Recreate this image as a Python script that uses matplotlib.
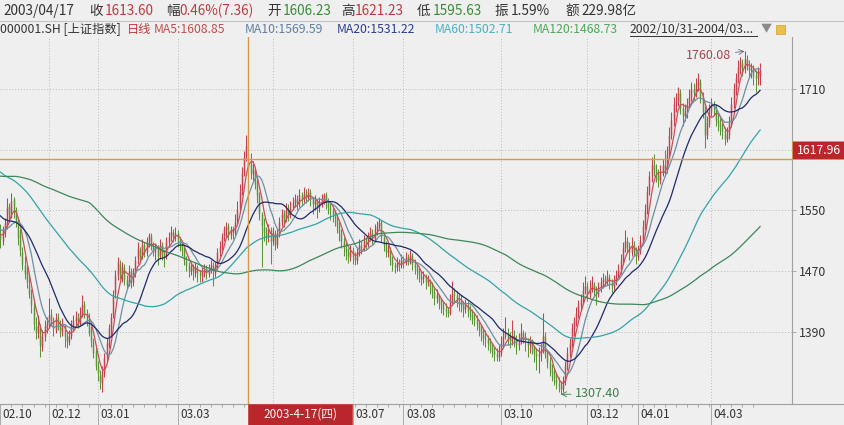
import numpy as np
import pandas as pd
import matplotlib
matplotlib.use("Agg")
import matplotlib.pyplot as plt
from matplotlib import transforms
from matplotlib.patches import Rectangle
from matplotlib.lines import Line2D

plt.rcParams['font.family'] = ['Noto Sans CJK SC', 'DejaVu Sans']

# ---------------- data ----------------
# closes before the visible window (needed for MA60 / MA120 at the left edge)
history_close = [
    1560, 1555, 1548, 1552, 1545, 1540, 1548, 1556, 1562, 1558,
    1550, 1545, 1538, 1542, 1550, 1555, 1560, 1565, 1558, 1552,
    1545, 1540, 1535, 1540, 1548, 1552, 1546, 1540, 1535, 1530,
    1528, 1520, 1515, 1510, 1505, 1512, 1520, 1525, 1518, 1530,
    1620, 1700, 1710, 1705, 1712,
    1720, 1715, 1705, 1700, 1690, 1685, 1695, 1700, 1690, 1680,
    1675, 1670, 1665, 1660, 1668,
    1660, 1665, 1655, 1650, 1645, 1652, 1660, 1658, 1650, 1645,
    1640, 1645, 1650, 1655, 1648, 1640, 1635, 1630, 1638, 1645,
    1640, 1632, 1628, 1625, 1630, 1622, 1618, 1615, 1620, 1612,
    1605, 1600, 1598, 1605, 1610, 1602, 1595, 1590, 1585, 1588,
    1580, 1575, 1570, 1572, 1565,
    1560, 1555, 1550, 1545, 1540, 1535, 1530, 1528, 1535, 1530,
    1525, 1520, 1515, 1518,
]

opens = [
    1520, 1510, 1522, 1530, 1556, 1542, 1565, 1550, 1535, 1518,
    1495, 1478, 1470, 1452, 1438, 1422, 1398, 1388, 1395, 1370,
    1384, 1396, 1400, 1414, 1405, 1392, 1410, 1402, 1390, 1398,
    1385, 1376, 1384, 1398, 1404, 1410, 1400, 1414, 1426, 1415,
    1405, 1392, 1378, 1365, 1345, 1332, 1322, 1336, 1356, 1372,
    1395, 1412, 1440, 1465, 1480, 1466, 1475, 1458, 1452, 1470,
    1455, 1468, 1486, 1498, 1490, 1504, 1495, 1510, 1516, 1502,
    1495, 1500, 1490, 1504, 1492, 1490, 1508, 1515, 1522, 1516,
    1520, 1510, 1505, 1498, 1484, 1478, 1470, 1476, 1468, 1475,
    1466, 1464, 1470, 1474, 1466, 1472, 1478, 1468, 1476, 1495,
    1502, 1516, 1525, 1530, 1518, 1526, 1522, 1536, 1552, 1576,
    1600, 1622, 1606.23, 1612, 1598, 1604, 1585, 1570, 1545, 1528,
    1520, 1514, 1524, 1510, 1520, 1505, 1520, 1535, 1545, 1540,
    1552, 1545, 1556, 1560, 1565, 1558, 1570, 1565, 1572, 1568,
    1575, 1565, 1558, 1562, 1555, 1560, 1565, 1570, 1562, 1555,
    1550, 1545, 1540, 1530, 1520, 1510, 1500, 1495, 1488, 1498,
    1488, 1485, 1495, 1505, 1500, 1510, 1508, 1515, 1520, 1512,
    1525, 1530, 1535, 1515, 1505, 1495, 1498, 1485, 1478, 1475,
    1480, 1478, 1485, 1482, 1488, 1485, 1490, 1480, 1475, 1470,
    1465, 1460, 1462, 1455, 1458, 1450, 1442, 1435, 1438, 1430,
    1425, 1420, 1418, 1415, 1430, 1440, 1438, 1432, 1428, 1425,
    1420, 1425, 1418, 1415, 1410, 1405, 1400, 1395, 1388, 1382,
    1380, 1375, 1372, 1365, 1360, 1356, 1362, 1375, 1385, 1390,
    1382, 1378, 1385, 1380, 1372, 1378, 1388, 1385, 1378, 1372,
    1375, 1368, 1362, 1358, 1360, 1365, 1385, 1360, 1350, 1340,
    1335, 1328, 1322, 1318, 1315, 1325, 1345, 1362, 1375, 1395,
    1405, 1415, 1425, 1432, 1445, 1450, 1440, 1448, 1452, 1445,
    1440, 1448, 1455, 1460, 1458, 1462, 1455, 1450, 1458, 1465,
    1472, 1485, 1500, 1510, 1502, 1495, 1505, 1498, 1490, 1497,
    1510, 1530, 1550, 1575, 1595, 1610, 1605, 1598, 1590, 1600,
    1610, 1605, 1625, 1650, 1670, 1690, 1695, 1705, 1685, 1675,
    1680, 1690, 1700, 1710, 1705, 1715, 1720, 1700, 1680, 1650,
    1665, 1680, 1690, 1685, 1670, 1665, 1660, 1655, 1645, 1650,
    1665, 1690, 1710, 1725, 1740, 1745, 1738, 1750, 1742, 1735,
    1738, 1728, 1725, 1728,
]

highs = [
    1532, 1530, 1540, 1566, 1560, 1573, 1568, 1555, 1540, 1525,
    1502, 1490, 1478, 1465, 1446, 1430, 1410, 1412, 1400, 1392,
    1405, 1410, 1435, 1420, 1410, 1415, 1415, 1405, 1408, 1400,
    1390, 1392, 1405, 1412, 1418, 1415, 1422, 1439, 1430, 1420,
    1415, 1398, 1382, 1370, 1352, 1340, 1345, 1362, 1382, 1400,
    1415, 1445, 1472, 1489, 1485, 1482, 1480, 1465, 1478, 1474,
    1474, 1490, 1508, 1502, 1512, 1508, 1515, 1520, 1520, 1508,
    1506, 1504, 1512, 1508, 1498, 1515, 1522, 1529, 1526, 1528,
    1524, 1515, 1510, 1502, 1490, 1482, 1482, 1480, 1482, 1478,
    1472, 1476, 1480, 1478, 1480, 1485, 1482, 1482, 1500, 1510,
    1520, 1530, 1535, 1533, 1530, 1530, 1545, 1562, 1585, 1608,
    1628, 1649.6, 1621.23, 1626, 1615, 1608, 1592, 1575, 1548, 1540,
    1528, 1532, 1528, 1528, 1524, 1526, 1542, 1552, 1550, 1560,
    1558, 1562, 1568, 1572, 1570, 1578, 1575, 1581, 1578, 1580,
    1578, 1568, 1570, 1565, 1568, 1572, 1573, 1574, 1566, 1560,
    1556, 1550, 1545, 1535, 1526, 1515, 1508, 1500, 1505, 1502,
    1495, 1500, 1512, 1510, 1518, 1515, 1522, 1528, 1525, 1532,
    1536, 1540, 1538, 1520, 1510, 1505, 1502, 1490, 1482, 1488,
    1486, 1492, 1490, 1495, 1492, 1498, 1494, 1486, 1480, 1476,
    1470, 1470, 1466, 1465, 1460, 1455, 1448, 1446, 1440, 1435,
    1430, 1428, 1422, 1440, 1457, 1448, 1444, 1440, 1438, 1430,
    1433, 1430, 1425, 1420, 1415, 1412, 1405, 1400, 1395, 1392,
    1386, 1382, 1375, 1370, 1368, 1372, 1385, 1395, 1410, 1395,
    1390, 1406, 1392, 1386, 1388, 1402, 1392, 1390, 1382, 1384,
    1380, 1372, 1368, 1370, 1375, 1415, 1390, 1365, 1356, 1348,
    1342, 1335, 1330, 1325, 1332, 1352, 1370, 1382, 1402, 1410,
    1422, 1432, 1440, 1455, 1463, 1455, 1458, 1463, 1456, 1450,
    1456, 1462, 1468, 1465, 1472, 1466, 1460, 1465, 1472, 1480,
    1492, 1508, 1524, 1515, 1508, 1515, 1510, 1502, 1505, 1518,
    1538, 1558, 1582, 1602, 1620, 1625, 1612, 1605, 1610, 1618,
    1630, 1635, 1660, 1680, 1700, 1705, 1713, 1710, 1692, 1690,
    1698, 1710, 1720, 1718, 1725, 1731, 1724, 1706, 1688, 1675,
    1690, 1698, 1695, 1690, 1678, 1672, 1668, 1660, 1660, 1675,
    1700, 1718, 1732, 1748, 1752, 1750, 1760.08, 1755, 1748, 1745,
    1742, 1735, 1740, 1745,
]

lows = [
    1500, 1505, 1515, 1526, 1535, 1540, 1540, 1528, 1505, 1490,
    1472, 1460, 1448, 1435, 1415, 1392, 1380, 1382, 1356, 1365,
    1378, 1388, 1395, 1398, 1385, 1388, 1392, 1383, 1385, 1370,
    1368, 1372, 1380, 1392, 1398, 1395, 1398, 1410, 1408, 1398,
    1385, 1370, 1355, 1340, 1325, 1314, 1311, 1330, 1350, 1368,
    1383, 1408, 1435, 1458, 1460, 1455, 1452, 1446, 1450, 1448,
    1450, 1462, 1480, 1482, 1486, 1488, 1490, 1502, 1498, 1490,
    1485, 1478, 1486, 1485, 1476, 1486, 1502, 1510, 1508, 1510,
    1502, 1496, 1490, 1478, 1470, 1462, 1465, 1458, 1462, 1455,
    1455, 1456, 1462, 1460, 1462, 1468, 1450, 1462, 1472, 1490,
    1498, 1510, 1515, 1511, 1512, 1512, 1518, 1532, 1548, 1570,
    1595, 1615, 1595.63, 1592, 1590, 1578, 1560, 1538, 1476, 1510,
    1505, 1508, 1480, 1505, 1498, 1500, 1515, 1530, 1528, 1535,
    1536, 1540, 1550, 1555, 1550, 1554, 1556, 1560, 1560, 1562,
    1556, 1545, 1550, 1540, 1548, 1555, 1558, 1552, 1545, 1538,
    1535, 1530, 1520, 1510, 1500, 1490, 1485, 1481, 1484, 1480,
    1478, 1480, 1490, 1492, 1496, 1498, 1502, 1510, 1505, 1508,
    1518, 1525, 1508, 1496, 1488, 1488, 1478, 1470, 1468, 1470,
    1470, 1474, 1474, 1478, 1478, 1480, 1472, 1466, 1460, 1456,
    1452, 1454, 1446, 1450, 1440, 1434, 1425, 1428, 1420, 1415,
    1412, 1410, 1409, 1412, 1426, 1428, 1422, 1418, 1416, 1410,
    1415, 1410, 1405, 1400, 1397, 1392, 1385, 1378, 1372, 1370,
    1366, 1362, 1356, 1351, 1352, 1352, 1358, 1370, 1380, 1372,
    1368, 1372, 1370, 1360, 1366, 1374, 1375, 1365, 1357, 1362,
    1360, 1350, 1340, 1336, 1352, 1362, 1355, 1342, 1332, 1325,
    1320, 1315, 1310, 1307.4, 1310, 1320, 1340, 1356, 1370, 1385,
    1398, 1408, 1418, 1428, 1440, 1430, 1435, 1442, 1436, 1425,
    1436, 1442, 1448, 1450, 1452, 1446, 1441, 1445, 1452, 1460,
    1466, 1480, 1495, 1494, 1485, 1490, 1490, 1480, 1485, 1492,
    1505, 1525, 1545, 1570, 1588, 1596, 1588, 1581, 1585, 1595,
    1596, 1600, 1620, 1645, 1662, 1680, 1688, 1678, 1662, 1668,
    1672, 1685, 1694, 1696, 1700, 1708, 1692, 1672, 1632, 1645,
    1660, 1675, 1676, 1662, 1655, 1650, 1645, 1637, 1640, 1645,
    1660, 1685, 1702, 1718, 1730, 1728, 1732, 1735, 1726, 1725,
    1715, 1706, 1716, 1715,
]

closes = [
    1512, 1525, 1533, 1555, 1545, 1562, 1548, 1535, 1515, 1498,
    1480, 1466, 1455, 1440, 1425, 1400, 1390, 1398, 1372, 1385,
    1398, 1402, 1412, 1405, 1395, 1408, 1400, 1392, 1398, 1385,
    1378, 1385, 1398, 1405, 1410, 1402, 1415, 1425, 1415, 1405,
    1390, 1378, 1362, 1345, 1335, 1325, 1335, 1355, 1375, 1395,
    1410, 1438, 1465, 1482, 1468, 1476, 1460, 1452, 1470, 1455,
    1468, 1485, 1500, 1488, 1505, 1494, 1510, 1518, 1503, 1498,
    1500, 1490, 1505, 1492, 1488, 1508, 1515, 1522, 1518, 1520,
    1510, 1505, 1498, 1485, 1478, 1472, 1475, 1470, 1475, 1468,
    1465, 1470, 1472, 1468, 1472, 1478, 1470, 1475, 1495, 1502,
    1515, 1525, 1528.5, 1518, 1525, 1522, 1535, 1551.65, 1575, 1600,
    1620, 1635.65, 1613.60, 1600, 1605, 1585, 1570, 1545, 1530, 1520,
    1515, 1525, 1510, 1520, 1505, 1520, 1535, 1545, 1540, 1550,
    1545, 1555, 1560, 1565, 1558, 1570, 1565, 1572, 1568, 1575,
    1565, 1558, 1562, 1555, 1560, 1565, 1570, 1562, 1555, 1550,
    1545, 1540, 1530, 1520, 1510, 1500, 1495, 1490, 1498, 1488,
    1485, 1495, 1505, 1500, 1510, 1508, 1515, 1520, 1512, 1525,
    1530, 1535, 1515, 1505, 1495, 1498, 1485, 1478, 1475, 1480,
    1478, 1485, 1482, 1488, 1485, 1490, 1480, 1475, 1470, 1465,
    1460, 1462, 1455, 1458, 1450, 1442, 1435, 1438, 1430, 1425,
    1420, 1418, 1415, 1430, 1440, 1438, 1432, 1428, 1425, 1420,
    1425, 1418, 1415, 1410, 1405, 1400, 1395, 1388, 1382, 1380,
    1375, 1372, 1365, 1360, 1358, 1362, 1375, 1385, 1390, 1382,
    1378, 1385, 1380, 1372, 1378, 1388, 1385, 1378, 1372, 1375,
    1368, 1362, 1358, 1360, 1365, 1385, 1360, 1350, 1340, 1335,
    1328, 1322, 1318, 1315, 1325, 1345, 1362, 1375, 1395, 1405,
    1415, 1425, 1432, 1445, 1450, 1440, 1448, 1452, 1445, 1440,
    1448, 1455, 1460, 1458, 1462, 1455, 1450, 1458, 1465, 1472,
    1485, 1500, 1510, 1502, 1495, 1505, 1498, 1490, 1497, 1510,
    1530, 1550, 1575, 1595, 1610, 1605, 1598, 1590, 1600, 1610,
    1605, 1625, 1650, 1670, 1690, 1695, 1705, 1685, 1675, 1680,
    1690, 1700, 1710, 1705, 1715, 1720, 1700, 1680, 1650, 1665,
    1680, 1690, 1685, 1670, 1665, 1660, 1655, 1645, 1650, 1665,
    1690, 1710, 1725, 1740, 1745, 1738, 1750, 1742, 1735, 1738,
    1728, 1725, 1732, 1735,
]

ma_periods = [5, 10, 20, 60, 120]
x_tick_pos = [0, 22, 44, 80, 159, 182, 226, 265, 288, 321]
x_tick_labels = ['02.10', '02.12', '03.01', '03.03', '03.07', '03.08',
                 '03.10', '03.12', '04.01', '04.03']
x_grid_pos = [22, 44, 80, 123, 159, 182, 226, 265, 288, 321]
y_grid = [1390, 1470, 1550, 1630, 1710]
y_tick_vals = [1390, 1470, 1550, 1710]
cross_idx = 112
cross_value = 1617.96
cross_date = '2003-4-17(四)'
peak_idx, peak_val = 336, 1760.08
low_idx, low_val = 253, 1307.40

header1 = [('2003/04/17', 'dark'), ('收', 'dark'), ('1613.60', 'up'),
           ('幅', 'dark'), ('0.46%(7.36)', 'up'), ('开', 'dark'),
           ('1606.23', 'down'), ('高', 'dark'), ('1621.23', 'up'),
           ('低', 'dark'), ('1595.63', 'down'), ('振', 'dark'),
           ('1.59%', 'dark'), ('额', 'dark'), ('229.98亿', 'dark')]
header1_x = [3, 89, 105, 166, 179, 267, 283, 341, 355, 417, 433, 495, 511, 565, 581]
header2 = ['000001.SH [上证指数]', '日线', 'MA5:1608.85', 'MA10:1569.59',
           'MA20:1531.22', 'MA60:1502.71', 'MA120:1468.73', '2002/10/31-2004/03...']
header2_x = [0, 127, 154, 245, 337, 435, 533, 630]

# ---------------- style ----------------
BG = '#efefef'
DARK = '#333333'
UP_TXT = '#c0393f'
DN_TXT = '#3a8a3a'
RED_BAR = '#c8404e'
GREEN_BAR = '#5a9638'
MA_LINE = ['#c8505c', '#6d8fa3', '#1f2a6b', '#34a3a8', '#3f8659']
MA_TXT = ['#c0504d', '#5f7f9f', '#2c3f8f', '#4fb0c0', '#4ea85a']
CROSS = '#d49c4a'
GRID = '#b9b9b9'
AXC = '#a0a0a0'

W, H = 845, 425
fig = plt.figure(figsize=(W / 100, H / 100), dpi=100, facecolor=BG)
PL, PR, PT, PB = 0, 792, 37, 404
ax = fig.add_axes([PL / W, 1 - PB / H, (PR - PL) / W, (PB - PT) / H])
ax.set_facecolor(BG)

o = np.array(opens, float)
hi = np.array(highs, float)
lo = np.array(lows, float)
c = np.array(closes, float)
n = len(c)
idx = np.arange(n)
up = c >= o
bl = np.minimum(o, c)
bh = np.maximum(o, c)
for mask, col in ((up, RED_BAR), (~up, GREEN_BAR)):
    ax.vlines(idx[mask], lo[mask], hi[mask], colors=col, lw=0.75, zorder=3)
    ax.vlines(idx[mask], bl[mask], bh[mask], colors=col, lw=1.05, zorder=3)

full = pd.Series(list(history_close) + list(closes), dtype=float)
off = len(history_close)
for p, col in zip(ma_periods, MA_LINE):
    ma = full.rolling(p).mean().to_numpy()[off:]
    ax.plot(idx, ma, color=col, lw=0.9, zorder=4)

for yv in y_grid:
    ax.axhline(yv, color=GRID, lw=0.7, ls=(0, (1, 2)), zorder=1)
for xv in x_grid_pos:
    ax.axvline(xv, color=GRID, lw=0.7, ls=(0, (1, 2)), zorder=1)

ax.axvline(cross_idx, color=CROSS, lw=1.0, zorder=5)
ax.axhline(cross_value, color=CROSS, lw=1.0, zorder=5)

ax.set_xlim(-0.14, 357.4)
ax.set_ylim(1294.6, 1779)

for s in ('top', 'left'):
    ax.spines[s].set_visible(False)
for s in ('bottom', 'right'):
    ax.spines[s].set_color(AXC)
    ax.spines[s].set_linewidth(0.8)

ax.yaxis.tick_right()
ax.set_yticks(y_tick_vals)
ax.set_yticklabels([str(v) for v in y_tick_vals])
ax.tick_params(axis='y', direction='out', length=3, width=0.6, color=AXC,
               labelcolor=DARK, labelsize=8.8, pad=2)
ax.set_xticks(x_tick_pos + [123])
ax.set_xticklabels([])
ax.set_xticks(np.arange(0, n, 5), minor=True)
ax.tick_params(axis='x', which='major', direction='out', length=15, width=0.6, color=AXC)
ax.tick_params(axis='x', which='minor', direction='out', length=2.5, width=0.6, color=AXC)

btrans = transforms.blended_transform_factory(ax.transData, ax.transAxes)
lab_trans = transforms.offset_copy(btrans, fig=fig, x=2.5, y=-10, units='dots')
for p, lab in zip(x_tick_pos, x_tick_labels):
    ax.text(p, 0, lab, transform=lab_trans, ha='left', va='center',
            fontsize=8.5, color=DARK, clip_on=False)

# bottom axis continues under the price scale
fig.add_artist(Line2D([PR / W, 1], [1 - PB / H] * 2, transform=fig.transFigure,
                      color=AXC, lw=0.8))

# crosshair date box
xpix = ax.transData.transform((cross_idx, 0))[0]
fig.add_artist(Rectangle((xpix / W, 0), 104 / W, (H - PB) / H, transform=fig.transFigure,
                         facecolor='#b9272d', edgecolor='#c9463f', lw=0.6, zorder=10))
fig.text((xpix + 52) / W, (H - PB) / 2 / H, cross_date, ha='center', va='center',
         fontsize=8.5, color='white', zorder=11)

# crosshair value box
ypix = ax.transData.transform((0, cross_value))[1]
fig.add_artist(Rectangle((PR / W, ypix / H), (W - PR) / W, 18 / H, transform=fig.transFigure,
                         facecolor='#b9272d', edgecolor=CROSS, lw=0.6, zorder=10))
fig.text((PR + (W - PR) / 2) / W, (ypix + 9) / H, f'{cross_value:.2f}', ha='center',
         va='center', fontsize=8.8, color='white', zorder=11)

# annotations
ax.annotate(f'{peak_val:.2f}', xy=(peak_idx, peak_val), xytext=(309.5, 1755),
            ha='left', va='center', fontsize=9, color='#a8434d',
            arrowprops=dict(arrowstyle='->', color='#6d7080', lw=0.6,
                            shrinkA=1, shrinkB=0), zorder=6)
ax.annotate(f'{low_val:.2f}', xy=(low_idx, low_val), xytext=(259.5, 1307.8),
            ha='left', va='center', fontsize=9, color='#3d7f45',
            arrowprops=dict(arrowstyle='->', color='#3d7f45', lw=0.6,
                            shrinkA=1, shrinkB=0), zorder=6)

# header
col_map = {'dark': DARK, 'up': UP_TXT, 'down': DN_TXT}
for (txt, kind), xp in zip(header1, header1_x):
    fig.text(xp / W, 1 - 11 / H, txt, ha='left', va='center', fontsize=9.8,
             color=col_map[kind])
fig.add_artist(Line2D([0, 1], [1 - 20.5 / H] * 2, transform=fig.transFigure,
                      color='#c4c4c4', lw=0.8))
h2_colors = [DARK, UP_TXT] + MA_TXT + [DARK]
for txt, xp, col in zip(header2, header2_x, h2_colors):
    fig.text(xp / W, 1 - 29.5 / H, txt, ha='left', va='center', fontsize=8.8, color=col)
fig.add_artist(Line2D([630 / W, 757 / W], [1 - 36 / H] * 2, transform=fig.transFigure,
                      color=DARK, lw=0.7))
fig.text(766 / W, 1 - 29.5 / H, '▼', ha='center', va='center', fontsize=8,
         color='#8a8a8a')
fig.add_artist(Rectangle((776 / W, 1 - 34 / H), 9 / W, 9 / H, transform=fig.transFigure,
                         facecolor='#e8c04a', edgecolor='#d0a030', lw=0.5))

fig.savefig('out.png', dpi=100, facecolor=BG)
